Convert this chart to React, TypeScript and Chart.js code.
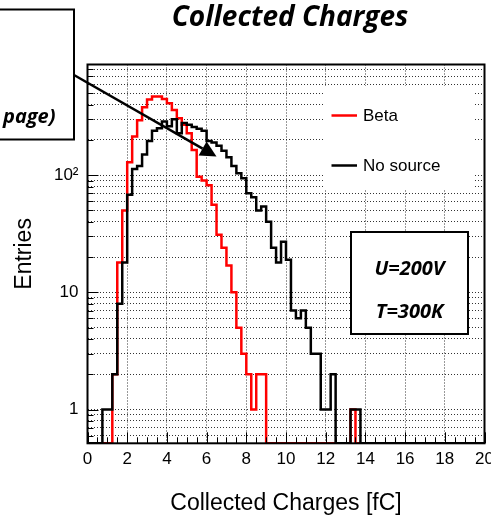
import React, { useEffect, useRef } from "react";
import { Chart, registerables } from "chart.js";

Chart.register(...registerables);

// ---- data ----
const BIN_WIDTH = 0.25; // fC
const X_MIN = 0;
const X_MAX = 20;
const Y_MIN = 0.515;
const Y_MAX = 881;

// counts per 0.25 fC bin, starting at 0 fC (80 bins)
const NO_SOURCE = [
  0, 0, 0, 1, 1, 2, 8, 18, 68, 113,
  120, 150, 196, 240, 252, 288, 262, 300, 228, 279,
  269, 258, 249, 240, 196, 190, 178, 162, 142, 120,
  104, 94, 70, 65, 50, 54, 40, 24, 18, 27,
  19, 7, 6, 7, 5, 3, 3, 1, 1, 2,
  0, 0, 0, 1, 1, 0, 0, 0, 0, 0,
  0, 0, 0, 0, 0, 0, 0, 0, 0, 0,
  0, 0, 0, 0, 0, 0, 0, 0, 0, 0,
];
const BETA = [
  0, 0, 0, 0, 0, 2, 18, 50, 129, 214,
  295, 380, 443, 470, 470, 447, 412, 360, 307, 269,
  228, 164, 97, 90, 82, 56, 31, 24, 17, 10,
  5, 3, 2, 1, 2, 2, 0, 0, 0, 0,
  0, 0, 0, 0, 0, 0, 0, 0, 0, 0,
  0, 0, 0, 1, 0, 0, 0, 0, 0, 0,
  0, 0, 0, 0, 0, 0, 0, 0, 0, 0,
  0, 0, 0, 0, 0, 0, 0, 0, 0, 0,
];

const Y_TICKS = [
  0.6, 0.7, 0.8, 0.9, 1, 2, 3, 4, 5, 6, 7, 8, 9, 10, 20, 30, 40, 50, 60, 70, 80, 90,
  100, 200, 300, 400, 500, 600, 700, 800,
];
const Y_LABELS: Record<string, string> = { "1": "1", "10": "10", "100": "10\u00B2" };
const X_STEP = 2;
const X_MINOR_STEP = 0.5;

const TITLE = "Collected Charges";
const X_TITLE = "Collected Charges [fC]";
const Y_TITLE = "Entries";
const LEGEND = [
  { label: "Beta", color: "#ff0000" },
  { label: "No source", color: "#000000" },
];
const INFO_LINES = ["U=200V", "T=300K"];
const NOTE_TEXT = "page)";

function toSteps(counts: number[]) {
  const pts = counts.map((c, i) => ({ x: X_MIN + i * BIN_WIDTH, y: c > 0 ? c : Y_MIN }));
  const last = counts[counts.length - 1];
  pts.push({ x: X_MIN + counts.length * BIN_WIDTH, y: last > 0 ? last : Y_MIN });
  return pts;
}

const SANS = "'Liberation Sans', Arial, sans-serif";
const CAL = "'Open Sans', Lato, sans-serif";

const overlay = {
  id: "overlay",
  afterDatasetsDraw(chart: any) {
    const { ctx, chartArea: a, scales } = chart;
    const xs = scales.x;
    const ys = scales.y;
    ctx.save();

    // legend
    ctx.fillStyle = "#fff";
    ctx.fillRect(325, 86, 149, 104);
    const legY = [115.5, 165.5];
    LEGEND.forEach((l, i) => {
      ctx.strokeStyle = l.color;
      ctx.lineWidth = 2.5;
      ctx.beginPath();
      ctx.moveTo(331.5, legY[i]);
      ctx.lineTo(357, legY[i]);
      ctx.stroke();
      ctx.fillStyle = "#000";
      ctx.font = `17px ${SANS}`;
      ctx.textBaseline = "middle";
      ctx.textAlign = "left";
      ctx.fillText(l.label, 363, legY[i] + 1);
    });

    // info box
    ctx.fillStyle = "#fff";
    ctx.fillRect(351, 232, 117, 102);
    ctx.strokeStyle = "#000";
    ctx.lineWidth = 2;
    ctx.strokeRect(351, 232, 117, 102);
    ctx.fillStyle = "#000";
    ctx.font = `italic bold 20px ${CAL}`;
    ctx.textAlign = "center";
    ctx.textBaseline = "alphabetic";
    ctx.fillText(INFO_LINES[0], 409.5, 275);
    ctx.fillText(INFO_LINES[1], 409.5, 318);

    // tick marks (inside)
    ctx.strokeStyle = "#000";
    ctx.lineWidth = 1;
    Y_TICKS.forEach((v) => {
      const py = Math.round(ys.getPixelForValue(v)) + 0.5;
      const len = Y_LABELS[String(v)] ? 11 : 6;
      ctx.beginPath();
      ctx.moveTo(a.left, py);
      ctx.lineTo(a.left + len, py);
      ctx.stroke();
    });
    for (let v = X_MIN; v <= X_MAX + 1e-9; v += X_MINOR_STEP) {
      const px = Math.round(xs.getPixelForValue(v)) + 0.5;
      const len = Math.abs(v / X_STEP - Math.round(v / X_STEP)) < 1e-9 ? 11 : 6;
      ctx.beginPath();
      ctx.moveTo(px, a.bottom);
      ctx.lineTo(px, a.bottom - len);
      ctx.stroke();
    }

    // frame
    ctx.lineWidth = 2;
    ctx.strokeRect(a.left, a.top, a.right - a.left, a.bottom - a.top);

    // title
    ctx.fillStyle = "#000";
    ctx.font = `italic bold 28px ${CAL}`;
    ctx.textAlign = "center";
    ctx.textBaseline = "alphabetic";
    ctx.fillText(TITLE, 290, 26);

    // note box (top-left)
    ctx.fillStyle = "#fff";
    ctx.fillRect(-4, 9.5, 78, 130);
    ctx.strokeStyle = "#000";
    ctx.lineWidth = 2;
    ctx.strokeRect(-4, 9.5, 78, 130);
    ctx.fillStyle = "#000";
    ctx.font = `italic bold 20px ${CAL}`;
    ctx.textAlign = "left";
    ctx.fillText(NOTE_TEXT, 3, 122.5);

    // arrow
    const x0 = 74, y0 = 75, x1 = 216.5, y1 = 156.5;
    const ang = Math.atan2(y1 - y0, x1 - x0);
    const L = 16, W = 8;
    const bx = x1 - L * Math.cos(ang), by = y1 - L * Math.sin(ang);
    ctx.lineWidth = 2.5;
    ctx.beginPath();
    ctx.moveTo(x0, y0);
    ctx.lineTo(bx, by);
    ctx.stroke();
    ctx.beginPath();
    ctx.moveTo(x1, y1);
    ctx.lineTo(bx - W * Math.sin(ang), by + W * Math.cos(ang));
    ctx.lineTo(bx + W * Math.sin(ang), by - W * Math.cos(ang));
    ctx.closePath();
    ctx.fill();

    ctx.restore();
  },
};

export default function App() {
  const ref = useRef<HTMLCanvasElement>(null);
  useEffect(() => {
    const chart = new Chart(ref.current as HTMLCanvasElement, {
      type: "line",
      data: {
        datasets: [
          {
            label: LEGEND[1].label,
            data: toSteps(NO_SOURCE),
            borderColor: LEGEND[1].color,
            borderWidth: 2.5,
            stepped: "before",
            pointRadius: 0,
            fill: false,
          },
          {
            label: LEGEND[0].label,
            data: toSteps(BETA),
            borderColor: LEGEND[0].color,
            borderWidth: 2.5,
            stepped: "before",
            pointRadius: 0,
            fill: false,
          },
        ],
      },
      options: {
        animation: false,
        responsive: false,
        devicePixelRatio: 1,
        layout: { autoPadding: false, padding: { left: 0, top: 64.5, right: 6.5, bottom: 0 } },
        plugins: { legend: { display: false }, tooltip: { enabled: false }, title: { display: false } },
        scales: {
          x: {
            type: "linear",
            min: X_MIN,
            max: X_MAX,
            ticks: {
              stepSize: X_STEP,
              padding: 6,
              color: "#000",
              font: { family: SANS, size: 17 },
              maxRotation: 0,
              autoSkip: false,
              callback: (v: any) => String(v),
            },
            grid: { color: "rgba(0,0,0,0.8)", lineWidth: 1, drawTicks: false },
            border: { display: false, dash: [1, 2] },
            title: {
              display: true,
              text: X_TITLE,
              color: "#000",
              font: { family: SANS, size: 23 },
              padding: { top: 0, bottom: 3.7 },
            },
            afterFit: (s: any) => {
              s.height = 77.7;
              s.paddingLeft = 0;
              s.paddingRight = 0;
            },
          },
          y: {
            type: "logarithmic",
            min: Y_MIN,
            max: Y_MAX,
            bounds: "data",
            afterBuildTicks: (s: any) => {
              s.ticks = Y_TICKS.filter((v) => v >= Y_MIN && v <= Y_MAX).map((v) => ({ value: v }));
            },
            ticks: {
              padding: 9,
              color: "#000",
              autoSkip: false,
              font: { family: SANS, size: 17 },
              callback: (v: any) => Y_LABELS[String(v)] || "",
            },
            grid: { color: "rgba(0,0,0,0.8)", lineWidth: 1, drawTicks: false },
            border: { display: false, dash: [1, 2] },
            title: {
              display: true,
              text: Y_TITLE,
              color: "#000",
              font: { family: SANS, size: 23 },
              padding: { top: 10.7, bottom: 0 },
            },
            afterFit: (s: any) => {
              s.width = 87.5;
              s.paddingTop = 0;
              s.paddingBottom = 0;
            },
          },
        },
      },
      plugins: [overlay],
    } as any);
    return () => chart.destroy();
  }, []);
  return (
    <div style={{ position: "absolute", left: 0, top: 0, width: 491, height: 521, background: "#fff" }}>
      <canvas ref={ref} width={491} height={521} style={{ display: "block", width: 491, height: 521 }} />
    </div>
  );
}
